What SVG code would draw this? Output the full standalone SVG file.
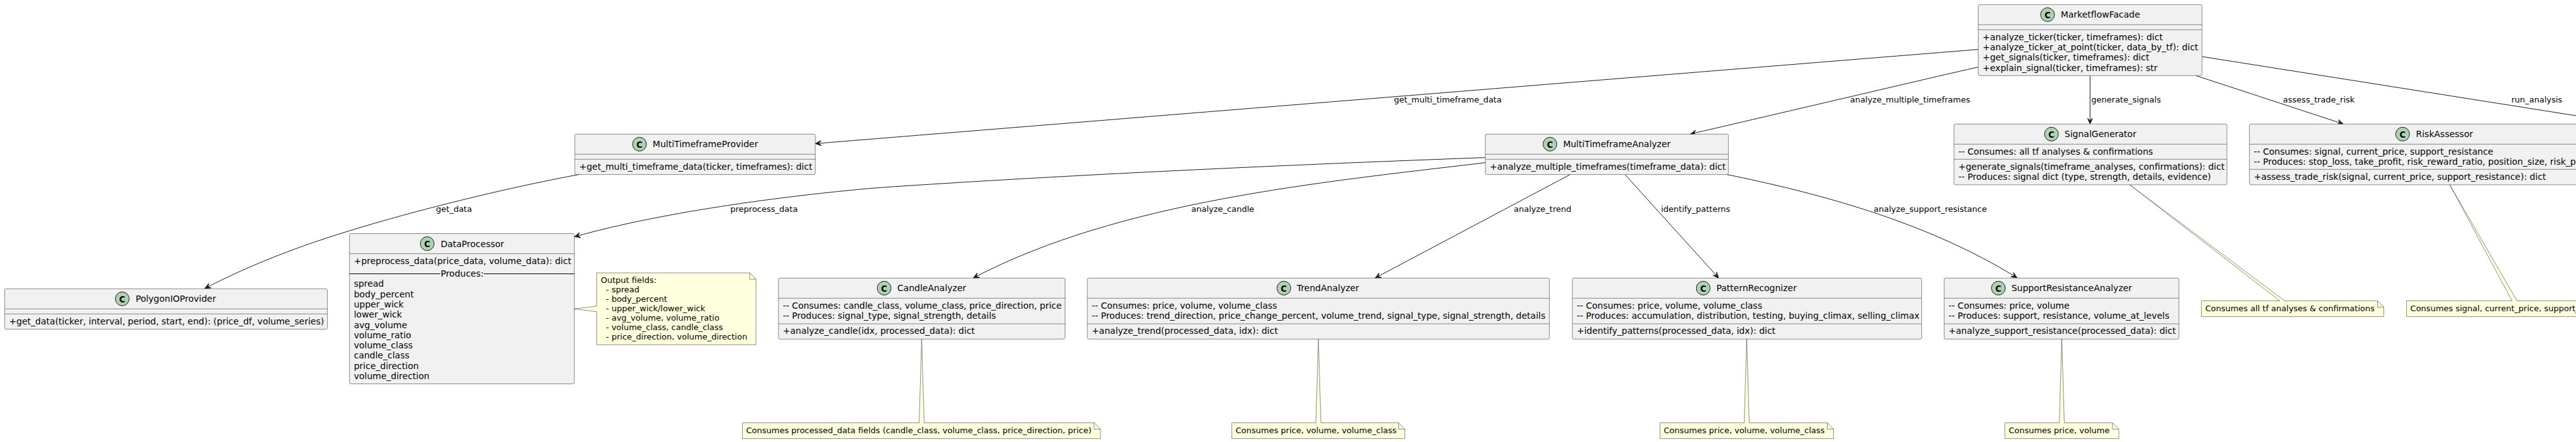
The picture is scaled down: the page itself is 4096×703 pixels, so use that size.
<svg xmlns="http://www.w3.org/2000/svg" width="4096" height="703" viewBox="0 0 4096 703">
<style>
text{font-family:"DejaVu Sans","Liberation Sans",sans-serif;fill:#000}
.t{font-size:14px}
.l,.n{font-size:13px}
.cg{font-family:"DejaVu Sans Condensed","DejaVu Sans",sans-serif;font-size:14.5px;font-weight:bold;text-anchor:middle}
.box{fill:#F1F1F1;stroke:#181818;stroke-width:.5}
.sep{stroke:#181818;stroke-width:.5;fill:none}
.dark{stroke:#000;stroke-width:1;fill:none}
.circ{fill:#ADD1B2;stroke:#181818;stroke-width:1}
.note{fill:#FEFFDD;stroke:#181818;stroke-width:.5}
.fold{fill:none;stroke:#181818;stroke-width:.5}
.c{fill:none;stroke:#181818;stroke-width:1;marker-end:url(#arrow)}
.c0{fill:none;stroke:#181818;stroke-width:1}
</style>
<defs>
<marker id="arrow" markerUnits="userSpaceOnUse" markerWidth="20" markerHeight="20" refX="10" refY="10" orient="auto" overflow="visible">
<path d="M10,10 L1,6 L5,10 L1,14 Z" fill="#181818" stroke="#181818" stroke-width="1"/>
</marker>
</defs>
<rect x="0" y="0" width="4096" height="703" fill="#FFFFFF"/>

<g id="connectors">
<path class="c" d="M3145.5,78.6 L1296.6,228.4"/>
<text class="l" x="2216.4" y="163.3">get_multi_timeframe_data</text>
<path class="c" d="M3145.5,106.6 C3060,126 2780,192 2688.2,213"/>
<text class="l" x="2941.7" y="163.3">analyze_multiple_timeframes</text>
<path class="c" d="M3323.3,120.3 L3323.3,197"/>
<text class="l" x="3325.3" y="163.3">generate_signals</text>
<path class="c" d="M3491.7,120.3 L3725.6,197"/>
<text class="l" x="3630.1" y="163.3">assess_trade_risk</text>
<path class="c0" d="M3501.3,90 L4096,184"/>
<text class="l" x="3993.2" y="163.3">run_analysis</text>
<path class="c" d="M921.7,277.3 C800,300 660,335 556.7,366.7 C480,390 400,420 326,458.5"/>
<text class="l" x="693.3" y="337.3">get_data</text>
<path class="c" d="M2361.8,250.6 C2050,262 1700,278 1400,298.3 C1270,309 1060,335 913.8,376.5"/>
<text class="l" x="1161.3" y="337.3">preprocess_data</text>
<path class="c" d="M2361.8,258.7 C2100,290 1780,320 1547.8,442"/>
<text class="l" x="1894.3" y="337.3">analyze_candle</text>
<path class="c" d="M2496.7,277.6 L2186.8,442"/>
<text class="l" x="2407" y="337.3">analyze_trend</text>
<path class="c" d="M2583.8,277.6 L2732.6,442"/>
<text class="l" x="2641.2" y="337.3">identify_patterns</text>
<path class="c" d="M2746,277.6 C2880,305 3060,350 3207,441.7"/>
<text class="l" x="2979.3" y="337.3">analyze_support_resistance</text>
</g>

<g id="MarketflowFacade">
<rect class="box" x="3145.5" y="7.3" width="355.8" height="113" rx="2.5"/>
<circle class="circ" cx="3255.7" cy="23.3" r="11"/><text class="cg" x="3255.7" y="28.5">C</text>
<text class="t" x="3276.7" y="28.3">MarketflowFacade</text>
<path class="sep" d="M3145.5,39.3H3501.3M3145.5,47.3H3501.3"/>
<text class="t" x="3152.5" y="63.6">+analyze_ticker(ticker, timeframes): dict</text>
<text class="t" x="3152.5" y="79.9">+analyze_ticker_at_point(ticker, data_by_tf): dict</text>
<text class="t" x="3152.5" y="96.2">+get_signals(ticker, timeframes): dict</text>
<text class="t" x="3152.5" y="112.5">+explain_signal(ticker, timeframes): str</text>
</g>

<g id="MultiTimeframeProvider">
<rect class="box" x="914" y="213.3" width="382.3" height="64.3" rx="2.5"/>
<circle class="circ" cx="1016.8" cy="229.3" r="11"/><text class="cg" x="1016.8" y="234.5">C</text>
<text class="t" x="1037.8" y="234.3">MultiTimeframeProvider</text>
<path class="sep" d="M914,245.3H1296.3M914,253.3H1296.3"/>
<text class="t" x="921" y="269.6">+get_multi_timeframe_data(ticker, timeframes): dict</text>
</g>

<g id="MultiTimeframeAnalyzer">
<rect class="box" x="2361.8" y="213.3" width="386.5" height="64.3" rx="2.5"/>
<circle class="circ" cx="2464.5" cy="229.3" r="11"/><text class="cg" x="2464.5" y="234.5">C</text>
<text class="t" x="2485.4" y="234.3">MultiTimeframeAnalyzer</text>
<path class="sep" d="M2361.8,245.3H2748.3M2361.8,253.3H2748.3"/>
<text class="t" x="2368.8" y="269.6">+analyze_multiple_timeframes(timeframe_data): dict</text>
</g>

<g id="SignalGenerator">
<rect class="box" x="3107" y="197.3" width="434" height="96.6" rx="2.5"/>
<circle class="circ" cx="3261.9" cy="213.3" r="11"/><text class="cg" x="3261.9" y="218.5">C</text>
<text class="t" x="3282.8" y="218.3">SignalGenerator</text>
<path class="sep" d="M3107,229.3H3541M3107,253.3H3541"/>
<text class="t" x="3114" y="245.6">-- Consumes: all tf analyses &amp; confirmations</text>
<text class="t" x="3114" y="269.6">+generate_signals(timeframe_analyses, confirmations): dict</text>
<text class="t" x="3114" y="285.9">-- Produces: signal dict (type, strength, details, evidence)</text>
</g>

<g id="RiskAssessor">
<rect class="box" x="3576.7" y="197.3" width="587" height="96.6" rx="2.5"/>
<circle class="circ" cx="3820.3" cy="213.3" r="11"/><text class="cg" x="3820.3" y="218.5">C</text>
<text class="t" x="3841.5" y="218.3">RiskAssessor</text>
<path class="sep" d="M3576.7,229.3H4163.7M3576.7,269.3H4163.7"/>
<text class="t" x="3583.7" y="245.6">-- Consumes: signal, current_price, support_resistance</text>
<text class="t" x="3583.7" y="261.9">-- Produces: stop_loss, take_profit, risk_reward_ratio, position_size, risk_p</text>
<text class="t" x="3583.7" y="285.6">+assess_trade_risk(signal, current_price, support_resistance): dict</text>
</g>

<g id="PolygonIOProvider">
<rect class="box" x="7.4" y="459.3" width="513.2" height="64.3" rx="2.5"/>
<circle class="circ" cx="194.4" cy="475.3" r="11"/><text class="cg" x="194.4" y="480.5">C</text>
<text class="t" x="215.7" y="480.3">PolygonIOProvider</text>
<path class="sep" d="M7.4,491.3H520.6M7.4,499.3H520.6"/>
<text class="t" x="14.4" y="515.6">+get_data(ticker, interval, period, start, end): (price_df, volume_series)</text>
</g>

<g id="DataProcessor">
<rect class="box" x="555.7" y="371.5" width="357.6" height="239" rx="2.5"/>
<circle class="circ" cx="679.3" cy="387.5" r="11"/><text class="cg" x="679.3" y="392.7">C</text>
<text class="t" x="700.7" y="392.5">DataProcessor</text>
<path class="sep" d="M555.7,403.5H913.3"/>
<text class="t" x="562.7" y="419.8">+preprocess_data(price_data, volume_data): dict</text>
<path class="dark" d="M555.7,435.5H700M769,435.5H913.3"/>
<text class="t" x="700.7" y="440.3">Produces:</text>
<text class="t" x="562.7" y="456.3">spread</text>
<text class="t" x="562.7" y="472.6">body_percent</text>
<text class="t" x="562.7" y="488.9">upper_wick</text>
<text class="t" x="562.7" y="505.2">lower_wick</text>
<text class="t" x="562.7" y="521.5">avg_volume</text>
<text class="t" x="562.7" y="537.8">volume_ratio</text>
<text class="t" x="562.7" y="554.1">volume_class</text>
<text class="t" x="562.7" y="570.4">candle_class</text>
<text class="t" x="562.7" y="586.7">price_direction</text>
<text class="t" x="562.7" y="603">volume_direction</text>
</g>

<g id="NoteDataProcessor">
<path class="note" d="M948.7,434 L1192,434 L1202,444 L1202,548.3 L948.7,548.3 L948.7,495.7 L912.7,491.3 L948.7,487 Z"/>
<path class="fold" d="M1192,434 L1192,444 L1202,444"/>
<text class="n" x="955.3" y="449.6">Output fields:</text>
<text class="n" x="963.6" y="464.7">- spread</text>
<text class="n" x="963.6" y="479.9">- body_percent</text>
<text class="n" x="963.6" y="495">- upper_wick/lower_wick</text>
<text class="n" x="963.6" y="510.1">- avg_volume, volume_ratio</text>
<text class="n" x="963.6" y="525.3">- volume_class, candle_class</text>
<text class="n" x="963.6" y="540.4">- price_direction, volume_direction</text>
</g>

<g id="CandleAnalyzer">
<rect class="box" x="1237.8" y="442.3" width="455.7" height="97" rx="2.5"/>
<circle class="circ" cx="1405.9" cy="458.3" r="11"/><text class="cg" x="1405.9" y="463.5">C</text>
<text class="t" x="1426.8" y="463.3">CandleAnalyzer</text>
<path class="sep" d="M1237.8,474.3H1693.5M1237.8,515H1693.5"/>
<text class="t" x="1244.8" y="490.6">-- Consumes: candle_class, volume_class, price_direction, price</text>
<text class="t" x="1244.8" y="506.9">-- Produces: signal_type, signal_strength, details</text>
<text class="t" x="1244.8" y="531.3">+analyze_candle(idx, processed_data): dict</text>
</g>

<g id="TrendAnalyzer">
<rect class="box" x="1728.9" y="442.3" width="734.7" height="97" rx="2.5"/>
<circle class="circ" cx="2041.4" cy="458.3" r="11"/><text class="cg" x="2041.4" y="463.5">C</text>
<text class="t" x="2061.9" y="463.3">TrendAnalyzer</text>
<path class="sep" d="M1728.9,474.3H2463.6M1728.9,515H2463.6"/>
<text class="t" x="1735.9" y="490.6">-- Consumes: price, volume, volume_class</text>
<text class="t" x="1735.9" y="506.9">-- Produces: trend_direction, price_change_percent, volume_trend, signal_type, signal_strength, details</text>
<text class="t" x="1735.9" y="531.3">+analyze_trend(processed_data, idx): dict</text>
</g>

<g id="PatternRecognizer">
<rect class="box" x="2500.2" y="442.3" width="555.4" height="97" rx="2.5"/>
<circle class="circ" cx="2708.2" cy="458.3" r="11"/><text class="cg" x="2708.2" y="463.5">C</text>
<text class="t" x="2729.2" y="463.3">PatternRecognizer</text>
<path class="sep" d="M2500.2,474.3H3055.6M2500.2,515H3055.6"/>
<text class="t" x="2507.2" y="490.6">-- Consumes: price, volume, volume_class</text>
<text class="t" x="2507.2" y="506.9">-- Produces: accumulation, distribution, testing, buying_climax, selling_climax</text>
<text class="t" x="2507.2" y="531.3">+identify_patterns(processed_data, idx): dict</text>
</g>

<g id="SupportResistanceAnalyzer">
<rect class="box" x="3091.3" y="442.3" width="373.4" height="97" rx="2.5"/>
<circle class="circ" cx="3177.5" cy="458.3" r="11"/><text class="cg" x="3177.5" y="463.5">C</text>
<text class="t" x="3198.4" y="463.3">SupportResistanceAnalyzer</text>
<path class="sep" d="M3091.3,474.3H3464.7M3091.3,515H3464.7"/>
<text class="t" x="3098.3" y="490.6">-- Consumes: price, volume</text>
<text class="t" x="3098.3" y="506.9">-- Produces: support, resistance, volume_at_levels</text>
<text class="t" x="3098.3" y="531.3">+analyze_support_resistance(processed_data): dict</text>
</g>

<g id="NoteCandle">
<path class="note" d="M1180.5,672.5 L1461.5,672.5 L1465.5,539.3 L1469.5,672.5 L1739.8,672.5 L1749.8,682.5 L1749.8,697.6 L1180.5,697.6 Z"/>
<path class="fold" d="M1739.8,672.5 L1739.8,682.5 L1749.8,682.5"/>
<text class="n" x="1186.5" y="689.3">Consumes processed_data fields (candle_class, volume_class, price_direction, price)</text>
</g>
<g id="NoteTrend">
<path class="note" d="M1958.7,672.5 L2092.3,672.5 L2096.3,539.3 L2100.3,672.5 L2223.8,672.5 L2233.8,682.5 L2233.8,697.6 L1958.7,697.6 Z"/>
<path class="fold" d="M2223.8,672.5 L2223.8,682.5 L2233.8,682.5"/>
<text class="n" x="1964.7" y="689.3">Consumes price, volume, volume_class</text>
</g>
<g id="NotePattern">
<path class="note" d="M2639.5,672.5 L2773.4,672.5 L2777.4,539.3 L2781.4,672.5 L2905.4,672.5 L2915.4,682.5 L2915.4,697.6 L2639.5,697.6 Z"/>
<path class="fold" d="M2905.4,672.5 L2905.4,682.5 L2915.4,682.5"/>
<text class="n" x="2645.5" y="689.3">Consumes price, volume, volume_class</text>
</g>
<g id="NoteSupport">
<path class="note" d="M3187.9,672.5 L3274.4,672.5 L3278.4,539.3 L3282.4,672.5 L3359,672.5 L3369,682.5 L3369,697.6 L3187.9,697.6 Z"/>
<path class="fold" d="M3359,672.5 L3359,682.5 L3369,682.5"/>
<text class="n" x="3193.9" y="689.3">Consumes price, volume</text>
</g>
<g id="NoteSignal">
<path class="note" d="M3500.4,478.5 L3625,478.5 L3386.4,293.9 L3632.8,478.5 L3780.4,478.5 L3790.4,488.5 L3790.4,503.6 L3500.4,503.6 Z"/>
<path class="fold" d="M3780.4,478.5 L3780.4,488.5 L3790.4,488.5"/>
<text class="n" x="3506.4" y="495.3">Consumes all tf analyses &amp; confirmations</text>
</g>
<g id="NoteRisk">
<path class="note" d="M3826.6,478.5 L3994.3,478.5 L3895.3,293.9 L4002.2,478.5 L4120,478.5 L4120,503.6 L3826.6,503.6 Z"/>
<text class="n" x="3832.6" y="495.3">Consumes signal, current_price, support_</text>
</g>
</svg>
